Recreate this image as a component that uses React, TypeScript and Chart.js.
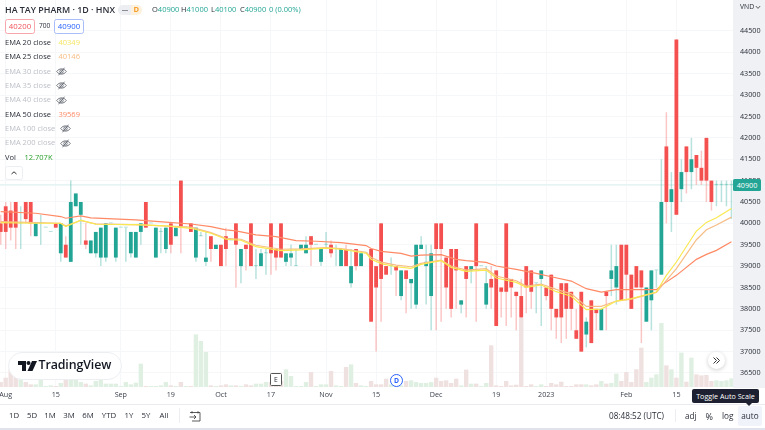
import React, { useEffect, useRef } from "react";
import { Chart, registerables } from "chart.js";

Chart.register(...registerables);

const opens = [40000,40400,40300,40500,40000,40500,40500,39700,40000,39900,39800,40000,39300,39500,39100,40400,40200,39600,39300,39300,39200,39200,40000,39200,39900,39900,39300,39200,39800,40500,40000,39200,39800,39400,40000,39700,41000,39900,40000,39200,39700,39100,39700,39400,39500,39700,39600,40000,39000,39500,40000,39000,39000,39300,40000,39400,40000,39100,39200,39000,39400,39300,39700,39500,39100,39500,39500,39400,39000,39400,38600,39400,39000,39300,39400,39000,40000,39000,39000,39000,38300,38900,38600,38100,39400,39000,38300,40000,40000,39200,39400,39400,38100,39000,38900,40000,39000,38100,38700,38900,38500,40000,38700,38400,38300,39000,38900,38600,38700,38500,38800,38000,38600,38600,38400,37500,38400,37400,38200,38000,37500,38400,38700,38500,39500,39500,38800,39000,38900,37700,38200,38900,38800,41800,40500,44300,40800,41800,41200,41600,41300,42000,41000,40900,40900,40900,40900];
const closes = [39800,39800,39900,39900,40000,40100,40000,40000,40000,39900,39800,39900,40000,39200,40500,40700,40500,39500,39600,39800,39900,40000,40000,39900,39900,39900,39800,39800,40000,39900,40000,39900,39800,39900,39500,39900,39900,39900,39800,39900,39700,39200,39400,39500,39000,39400,39600,39500,39400,39400,39000,39000,39300,39300,39300,39200,39200,39300,39300,39000,39500,39500,39500,39500,39400,39500,39300,39400,39400,39000,39000,39000,39300,39300,37700,38500,38700,38800,39000,38900,38900,38700,38700,39500,39500,39100,39300,39400,39400,38500,38000,38900,38200,38700,39000,39000,39000,38600,38500,37600,38400,38400,38500,38300,37800,38500,38400,38600,38900,38300,38000,37800,37800,38000,38000,37300,37000,37700,37200,37900,38000,38300,38900,39000,38200,38800,38000,38500,38500,38500,38900,38900,40500,40500,40800,40200,41200,41200,41500,41300,41000,41000,40500,40900,40900,40900,40900];
const highs = [40200,40500,40500,40500,40400,40500,40500,40000,40200,39900,39800,40000,40000,39700,41000,40700,40500,40000,39600,39800,39900,40000,40000,39900,39900,39900,39800,39800,40000,40500,40000,39900,39900,39900,40000,39900,41000,39900,40000,39900,39800,39800,39700,39500,39500,39900,39600,40000,39400,39500,40000,39400,39400,39400,40000,39400,40000,39300,39500,39400,39500,39700,39700,39500,39400,39800,39600,39500,39400,39500,39400,39400,39300,39300,39400,39000,40000,39000,39200,39000,38900,38900,38700,39500,39700,39500,39500,40000,40000,39200,39400,39400,38200,39000,39000,40000,39000,39000,39000,38900,38500,40000,38700,38400,38700,39000,38900,38600,38900,38500,38800,38000,38600,38600,38400,38000,38400,37800,38200,38000,38000,38400,39500,39500,39500,39500,38800,39000,38900,38500,38900,38900,41500,42600,41200,44300,41500,41800,42000,41600,41700,42000,41000,41000,41000,41000,41000];
const lows = [39500,39400,39600,39400,39400,40000,39700,39700,39500,39900,39800,39900,39100,39200,39100,40400,39500,39400,39300,39200,39000,39100,40000,39100,39900,39100,39200,39200,39500,39900,40000,39200,39300,39300,39300,39700,39300,39900,39800,39100,39700,39000,39100,39400,39000,39000,39600,38500,38600,38900,39000,38700,39000,38800,38800,38900,39200,39000,39000,39000,39400,39300,39000,39500,39000,39400,39200,39000,39000,39000,38500,38900,39000,39300,37700,37000,37700,38800,38800,38300,38200,37900,38000,38000,39400,38100,37500,37500,37700,38000,37800,38000,37900,37800,38600,37700,39000,38000,38000,37600,37800,37600,37800,37500,37800,37900,38000,37900,37600,38200,37500,37300,37200,37300,37500,37300,37000,37100,37200,37500,37500,37500,38300,38100,38200,38200,38000,38500,37200,37700,37500,38500,38800,40000,39800,40200,40500,40700,40800,40900,40900,40500,40300,40400,40500,40400,40100];
const volumes = [7.3,13.7,26,16.2,11.2,7.3,3.9,3.9,11.2,1.5,2.4,1.5,5.9,11.2,11.2,11.2,7.3,4.9,2.4,8.8,11.2,4.9,4.9,4.9,1.5,7.3,3.9,6.4,34.3,1.5,1.5,1.5,2.4,7.3,2.4,1.5,7.3,1.5,1.5,77.4,67.6,51.5,2.4,1.5,2.4,3.9,2.4,2.4,1.5,3.9,2.4,4.9,4.9,7.3,7.3,3.9,9,26,16.2,1.5,1.5,7.3,22,1.5,3.9,3.9,23.5,2.4,1.5,29.4,33.3,5.9,2.4,1.5,8.8,3.9,3.9,12.2,3.9,1.5,2.4,8.8,9.8,7.3,5.9,5.9,7.3,13.7,8.8,9.8,5.9,12.2,2.4,25.5,4.9,4.9,1.5,5.9,61.3,2.4,1.5,8.8,2.4,3.4,101.4,1.5,3.9,1.5,3.9,1.5,5.9,3.9,7.8,1.5,1.5,3.9,3.9,3.9,2.4,3.9,8.8,4.9,5.9,19.6,8.8,22,7.3,26,57.8,7.3,13.7,18.6,94,31.8,26,13.7,50.5,7.8,43.1,18.6,17.1,17.6,8.8,9.8,8.8,9.8,12.7];

const ema50Bars = [0,7,12,13,16,18,27,33,38,42,45,47,51,55,59,63,68,73,74,76,80,82,84,88,91,93,97,99,103,107,110,114,117,120,123,131,132,135,139,141,143,146];
const ema50Values = [40276,40237,40160,40120,40175,40128,40080,40027,39985,39925,39847,39824,39730,39692,39598,39582,39551,39481,39411,39345,39298,39236,39259,39267,39158,39127,39088,39002,38924,38830,38752,38651,38472,38394,38448,38448,38550,38784,39158,39275,39368,39569];
const ema25Bars = [0,12,13,16,19,28,38,42,45,48,51,56,60,65,68,73,74,76,79,82,84,88,90,93,97,99,103,105,108,111,114,117,120,123,126,131,133,135,139,141,143,146];
const ema25Values = [40042,40003,39941,40066,39988,39964,39910,39785,39652,39629,39489,39395,39403,39434,39411,39325,39208,39093,39025,38986,39064,39142,39002,38908,38940,38768,38659,38534,38581,38456,38350,38059,38059,38183,38230,38386,38667,38940,39618,39852,39961,40146];
const ema20Bars = [0,6,12,13,16,19,27,33,38,42,45,48,51,56,60,65,68,73,74,76,79,82,84,88,90,93,97,99,103,105,108,111,114,117,120,123,126,131,133,135,139,141,143,146];
const ema20Values = [40019,40003,40003,39925,40073,39980,39972,39940,39885,39769,39629,39606,39458,39364,39380,39419,39395,39302,39161,39058,38986,38947,39041,39127,38971,38877,38908,38721,38620,38503,38558,38402,38296,37981,37996,38183,38238,38394,38784,39096,39821,40023,40133,40349];

const priceTicks = [36500,37000,37500,38000,38500,39000,39500,40000,40500,41000,41500,42000,42500,43000,43500,44000,44500];
const timeBars = [1,11,24,34,44,54,65,75,87,99,109,125,135];
const timeLabels = ["Aug","15","Sep","19","Oct","17","Nov","15","Dec","19","2023","Feb","15"];
const lastPrice = 40900;

const legendRows = [
  { name: "EMA 20 close", value: "40349", color: "#f5e663", on: true },
  { name: "EMA 25 close", value: "40146", color: "#f7bd85", on: true },
  { name: "EMA 30 close", on: false },
  { name: "EMA 35 close", on: false },
  { name: "EMA 40 close", on: false },
  { name: "EMA 50 close", value: "39569", color: "#ff8a65", on: true },
  { name: "EMA 100 close", on: false },
  { name: "EMA 200 close", on: false },
];
const rangeButtons: [string, number][] = [["1D",14],["5D",32],["1M",50],["3M",69],["6M",88],["YTD",109],["1Y",129],["5Y",146],["All",164]];

const FONT = '"Open Sans", sans-serif';
const TEAL = "#22a595";
const RED = "#f4504f";
const INK = "#2a2e39";

const at = (x: number, y: number, extra: React.CSSProperties = {}): React.CSSProperties => ({
  position: "absolute", left: x, top: y, whiteSpace: "nowrap", lineHeight: 1, ...extra,
});

function Eye({ x, y }: { x: number; y: number }) {
  return (
    <svg style={at(x, y)} width="11" height="9" viewBox="0 0 11 9" fill="none" stroke="#555a66" strokeWidth="0.8">
      <path d="M0.7 4.5 C3 1 8 1 10.3 4.5 C8 8 3 8 0.7 4.5Z" />
      <circle cx="5.5" cy="4.5" r="1.7" />
      <path d="M2.5 8.3 L8.5 0.7" />
    </svg>
  );
}

export default function App() {
  const ref = useRef<HTMLCanvasElement>(null);
  useEffect(() => {
    if (!ref.current) return;
    const isUp = (i: number) => closes[i] >= opens[i];
    const zeroPad = (s: any) => { s.paddingTop = 0; s.paddingBottom = 0; s.paddingLeft = 0; s.paddingRight = 0; };
    const line = (bars: number[], values: number[], color: string, order: number, width = 1.2) => ({
      type: "line" as const,
      data: bars.map((b, i) => ({ x: b, y: values[i] })),
      borderColor: color, borderWidth: width, pointRadius: 0, tension: 0, yAxisID: "y", order,
    });
    const chart = new Chart(ref.current, {
      type: "bar",
      data: {
        datasets: [
          {
            type: "bar",
            data: volumes.map((v, i) => ({ x: i, y: v })),
            backgroundColor: volumes.map((_, i) => (isUp(i) ? "#dff0e2" : "#f0e1e1")),
            barThickness: 4.4, yAxisID: "v", order: 9, grouped: false, inflateAmount: 0,
          },
          line([-1, 147], [lastPrice, lastPrice], "#e6f5f3", 8, 1.6),
          {
            type: "bar",
            data: highs.map((h, i) => ({ x: i, y: [lows[i], h] })),
            backgroundColor: highs.map((_, i) => (isUp(i) ? "rgba(34,165,149,0.32)" : "rgba(244,80,79,0.32)")),
            barThickness: 1.5, yAxisID: "y", order: 7, grouped: false, inflateAmount: 0,
          },
          {
            type: "bar",
            data: opens.map((o, i) => ({ x: i, y: [Math.min(o, closes[i]), Math.max(o, closes[i])] })),
            backgroundColor: opens.map((o, i) => (o === closes[i] ? "rgba(34,165,149,0.35)" : isUp(i) ? TEAL : RED)),
            barThickness: 3.8, minBarLength: 1, yAxisID: "y", order: 6, grouped: false, inflateAmount: 0,
          },
          line(ema50Bars, ema50Values, "#ff8a65", 3),
          line(ema25Bars, ema25Values, "#f7bd85", 2),
          line(ema20Bars, ema20Values, "#f9e84f", 1),
        ] as any,
      },
      options: {
        responsive: false,
        animation: false,
        events: [],
        layout: { padding: { left: 0, right: 0, top: 0, bottom: 25 } },
        plugins: { legend: { display: false }, tooltip: { enabled: false } },
        scales: {
          x: {
            type: "linear", min: -0.14, max: 146.31, offset: false,
            grid: { color: "#f6f7f9", drawTicks: false, offset: false, lineWidth: 1 },
            border: { display: false },
            ticks: {
              autoSkip: false, maxRotation: 0, padding: 4, color: "#3a3f4b",
              font: { family: FONT, size: 7.2 },
              callback: (v: any) => { const k = timeBars.indexOf(v); return k >= 0 ? timeLabels[k] : ""; },
            },
            afterBuildTicks: (s: any) => { s.ticks = timeBars.map((value) => ({ value })); },
            afterFit: (s: any) => { s.height = 18; zeroPad(s); },
          },
          y: {
            position: "right", min: 36172.5, max: 45225.1,
            grid: { color: "#f6f7f9", drawTicks: false, lineWidth: 1 },
            border: { display: false },
            ticks: {
              padding: 7, color: "#2a2e39", autoSkip: false,
              font: { family: FONT, size: 7.2 },
              callback: (v: any) => String(v),
            },
            afterBuildTicks: (s: any) => { s.ticks = priceTicks.map((value) => ({ value })); },
            afterFit: (s: any) => { s.width = 32; zeroPad(s); },
          },
          v: { display: false, position: "left", min: 0, max: 568.9 },
        },
      } as any,
    });
    return () => chart.destroy();
  }, []);

  return (
    <div style={{ position: "fixed", left: 0, top: 0, width: 765, height: 430, overflow: "hidden", background: "#fff", fontFamily: FONT, color: INK }}>
      <div style={{ position: "absolute", left: 733, top: 0, width: 32, height: 388, background: "#f0f1f5" }} />
      <div style={{ position: "absolute", left: 0, top: 404, width: 765, height: 1, background: "#e9ebf0" }} />
      <canvas ref={ref} width={765} height={430} style={{ position: "absolute", left: 0, top: 0, width: 765, height: 430 }} />

      <div style={at(5, 5.5, { fontSize: 8.9, fontWeight: 600 })}>HA TAY PHARM · 1D · HNX</div>
      <div style={{ position: "absolute", left: 118, top: 5, width: 13, height: 10, background: "#eceef2", borderRadius: "5px 0 0 5px" }} />
      <div style={{ position: "absolute", left: 131, top: 5, width: 11, height: 10, background: "#fdf1de", borderRadius: "0 5px 5px 0" }} />
      <div style={{ position: "absolute", left: 122, top: 9.5, width: 6, height: 1.3, background: "#8a8e99" }} />
      <div style={at(133.5, 6, { fontSize: 7.5, fontWeight: 700, color: "#f59d2a" })}>D</div>
      <div style={at(152, 6, { fontSize: 7.5 })}>O<span style={{ color: TEAL }}>40900</span></div>
      <div style={at(181, 6, { fontSize: 7.5 })}>H<span style={{ color: TEAL }}>41000</span></div>
      <div style={at(211, 6, { fontSize: 7.5 })}>L<span style={{ color: TEAL }}>40100</span></div>
      <div style={at(240, 6, { fontSize: 7.5 })}>C<span style={{ color: TEAL }}>40900</span></div>
      <div style={at(269, 6, { fontSize: 7.5, color: TEAL })}>0 (0.00%)</div>

      <div style={{ position: "absolute", left: 5, top: 19, width: 28, height: 13, border: "1px solid #f7a6ab", borderRadius: 2.5, background: "#fff", color: "#f2545b", fontSize: 7.8, textAlign: "center", lineHeight: "13px" }}>40200</div>
      <div style={at(39, 23, { fontSize: 6.6 })}>700</div>
      <div style={{ position: "absolute", left: 54, top: 19, width: 28, height: 13, border: "1px solid #a9bdf8", borderRadius: 2.5, background: "#fff", color: "#2962ff", fontSize: 7.8, textAlign: "center", lineHeight: "13px" }}>40900</div>

      {legendRows.map((r, i) => (
        <React.Fragment key={r.name}>
          <div style={at(5, 39 + i * 14.3, { fontSize: 7.5, color: r.on ? INK : "#bcbfc7" })}>{r.name}</div>
          {r.on ? (
            <div style={at(58.5, 39 + i * 14.3, { fontSize: 7.5, color: r.color })}>{r.value}</div>
          ) : (
            <Eye x={r.name.length > 12 ? 60 : 56} y={38.5 + i * 14.3} />
          )}
        </React.Fragment>
      ))}
      <div style={at(5, 154, { fontSize: 7.5 })}>Vol</div>
      <div style={at(24.5, 154, { fontSize: 7.5, color: "#2ca02c" })}>12.707K</div>
      <div style={{ position: "absolute", left: 5, top: 166, width: 16, height: 12, border: "1px solid #eceef2", borderRadius: 2.5, background: "#fff" }}>
        <svg width="16" height="12" style={{ display: "block" }}><path d="M5.5 7 L8 4.8 L10.5 7" fill="none" stroke="#333" strokeWidth="1" /></svg>
      </div>

      <div style={at(740, 4, { fontSize: 6.8 })}>VND</div>
      <svg style={at(755, 5)} width="6" height="5"><path d="M0.8 1 L3 3.4 L5.2 1" fill="none" stroke="#333" strokeWidth="0.8" /></svg>
      <div style={{ position: "absolute", left: 733, top: 179, width: 28, height: 12, background: TEAL, borderRadius: 1.5, color: "#fff", fontSize: 7.2, lineHeight: "12px", textAlign: "center" }}>40900</div>

      <div style={{ position: "absolute", left: 8, top: 352, width: 114, height: 28, borderRadius: 14, background: "#fff", border: "1px solid #eceef2", boxSizing: "border-box" }} />
      <svg style={at(18, 361)} width="19" height="10" viewBox="0 0 19 10" fill="#131722">
        <path d="M0 0 H8 V10 H4 V4 H0 Z" />
        <circle cx="10.5" cy="2" r="2" />
        <path d="M14 0 H19 L14.5 10 H9.5 Z" />
      </svg>
      <div style={at(38.5, 358.5, { fontSize: 12.4, fontWeight: 600, color: "#131722", letterSpacing: -0.1 })}>TradingView</div>

      <div style={{ position: "absolute", left: 270, top: 373, width: 10, height: 11, border: "1px solid #555", borderRadius: 1.5, background: "#fff", fontSize: 6.8, textAlign: "center", lineHeight: "11px" }}>E</div>
      <div style={{ position: "absolute", left: 390, top: 374, width: 11, height: 11, border: "1px solid #2962ff", borderRadius: "50%", background: "#fff", color: "#2962ff", fontSize: 6.8, fontWeight: 700, textAlign: "center", lineHeight: "11px" }}>D</div>
      <div style={{ position: "absolute", left: 708, top: 352, width: 17, height: 17, borderRadius: "50%", background: "#fff", boxShadow: "0 1px 4px rgba(0,0,0,0.2)" }}>
        <svg width="17" height="17" style={{ display: "block" }}><path d="M5.5 5.5 L8.5 8.5 L5.5 11.5 M8.5 5.5 L11.5 8.5 L8.5 11.5" fill="none" stroke="#333" strokeWidth="1" /></svg>
      </div>

      {rangeButtons.map(([t, x]) => (
        <div key={t} style={at(x, 412, { fontSize: 7.8, transform: "translateX(-50%)" })}>{t}</div>
      ))}
      <div style={{ position: "absolute", left: 179, top: 408, width: 1, height: 15, background: "#eceef2" }} />
      <svg style={at(189, 411)} width="12" height="11" viewBox="0 0 12 11" fill="none" stroke="#333" strokeWidth="0.8">
        <path d="M1 1.5 H11 V10 H3 M0.5 6 H7 M5 4 L7 6 L5 8 M3 0.2 V2.5 M9 0.2 V2.5" />
      </svg>
      <div style={at(609, 412, { fontSize: 8.2 })}>08:48:52 (UTC)</div>
      <div style={{ position: "absolute", left: 675, top: 409, width: 1, height: 13, background: "#eceef2" }} />
      <div style={at(685, 412, { fontSize: 8.2 })}>adj</div>
      <div style={at(705.5, 411.5, { fontSize: 9 })}>%</div>
      <div style={at(722, 412, { fontSize: 8.2 })}>log</div>
      <div style={{ position: "absolute", left: 738, top: 406, width: 24, height: 20, background: "#f0f3fa", borderRadius: 2, fontSize: 8.2, textAlign: "center", lineHeight: "20px" }}>auto</div>
      <div style={{ position: "absolute", left: 0, top: 428, width: 765, height: 2, background: "#e0e3eb" }} />

      <div style={{ position: "absolute", left: 692, top: 389, width: 67, height: 14, background: "#1c2030", borderRadius: 2, color: "#fff", fontSize: 7.2, textAlign: "center", lineHeight: "14px" }}>Toggle Auto Scale</div>
      <div style={{ position: "absolute", left: 746, top: 403, width: 0, height: 0, borderLeft: "3px solid transparent", borderRight: "3px solid transparent", borderTop: "3px solid #1c2030" }} />
    </div>
  );
}
